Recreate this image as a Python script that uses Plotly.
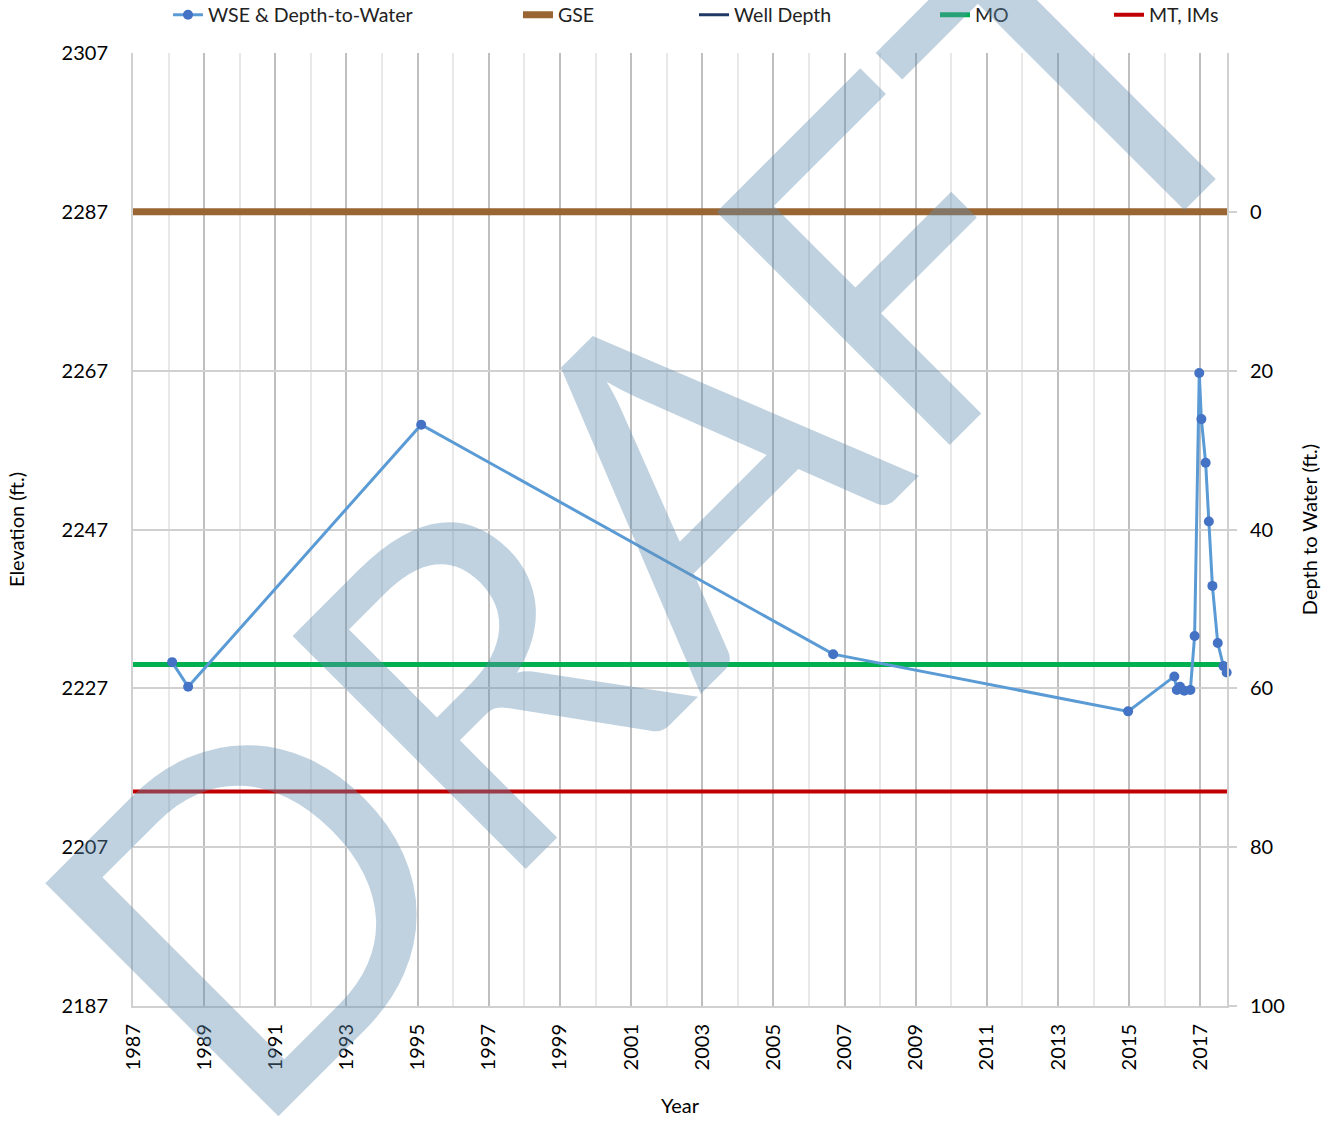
import plotly.graph_objects as go

# --- data ---
years = [1988.10, 1988.55, 1995.10, 2006.68, 2014.97, 2016.27, 2016.34, 2016.43,
         2016.55, 2016.72, 2016.84, 2016.97, 2017.03, 2017.15, 2017.24, 2017.34,
         2017.49, 2017.65, 2017.74]
wse = [2230.3, 2227.2, 2260.2, 2231.3, 2224.1, 2228.5, 2226.8, 2227.2,
       2226.7, 2226.8, 2233.6, 2266.7, 2260.9, 2255.4, 2248.0, 2239.9,
       2232.7, 2229.8, 2229.0]

x_span = [1987, 2017.75]
gse = 2287
mo = 2230
mt = 2214

elev_ticks = [2187, 2207, 2227, 2247, 2267, 2287, 2307]
depth_ticks = [0, 20, 40, 60, 80, 100]
year_ticks = list(range(1987, 2018, 2))

FONT = "Lato"

fig = go.Figure()

fig.add_trace(go.Scatter(x=x_span, y=[gse, gse], mode="lines", name="GSE",
                         line=dict(color="#996633", width=7), legend="legend2"))
fig.add_trace(go.Scatter(x=[None], y=[None], mode="lines", name="Well Depth",
                         line=dict(color="#1F3864", width=3), legend="legend3"))
fig.add_trace(go.Scatter(x=x_span, y=[mo, mo], mode="lines", name="MO",
                         line=dict(color="#00B050", width=5), legend="legend4"))
fig.add_trace(go.Scatter(x=x_span, y=[mt, mt], mode="lines", name="MT, IMs",
                         line=dict(color="#C00000", width=4), legend="legend5"))
fig.add_trace(go.Scatter(x=years, y=wse, mode="lines+markers", name="WSE & Depth-to-Water",
                         line=dict(color="#5B9BD5", width=3),
                         marker=dict(color="#4472C4", size=10), cliponaxis=False,
                         legend="legend"))

# invisible trace to carry the right-hand depth axis
fig.add_trace(go.Scatter(x=[None], y=[None], yaxis="y2", showlegend=False))

def leg(px):
    return dict(x=(px - 133) / 1094, y=(1006 - 15) / 953, xanchor="left", yanchor="middle",
                orientation="h", bgcolor="rgba(0,0,0,0)",
                font=dict(family=FONT, size=19.5, color="#222"))

fig.update_layout(
    width=1334, height=1122,
    margin=dict(l=133, r=107, t=53, b=116, autoexpand=False),
    plot_bgcolor="white", paper_bgcolor="white",
    font=dict(family=FONT, size=20, color="black"),
    legend=leg(168), legend2=leg(518), legend3=leg(694), legend4=leg(935), legend5=leg(1109),
    xaxis=dict(
        range=x_span, tickvals=year_ticks, tickangle=-90,
        showgrid=True, gridcolor="#BFBFBF", gridwidth=1.5,
        minor=dict(dtick=1, tick0=1987, showgrid=True, gridcolor="#E8E8E8", gridwidth=1.5),
        showline=True, linecolor="#D0D0D0", linewidth=2, zeroline=False,
        title=dict(text="Year", font=dict(size=20), standoff=30),
        ticks="", tickfont=dict(size=20), ticklabelstandoff=8, automargin=False,
    ),
    yaxis=dict(
        range=[2187, 2307], tickvals=elev_ticks,
        showgrid=True, gridcolor="#D0D0D0", gridwidth=1.5,
        showline=True, linecolor="#D0D0D0", linewidth=2, zeroline=False,
        title=dict(text="Elevation (ft.)", font=dict(size=20), standoff=32),
        ticks="", tickfont=dict(size=20), ticklabelstandoff=19, automargin=False,
    ),
    yaxis2=dict(
        overlaying="y", side="right", range=[100, -20], tickvals=depth_ticks,
        showgrid=False, showline=True, linecolor="#D0D0D0", linewidth=2, zeroline=False,
        ticks="outside", ticklen=8, tickcolor="#D0D0D0", tickwidth=2,
        title=dict(text="Depth to Water (ft.)", font=dict(size=20), standoff=19),
        tickfont=dict(size=20), ticklabelstandoff=9, automargin=False,
    ),
)

# DRAFT watermark over the chart
fig.add_annotation(
    text="DRAFT", xref="paper", yref="paper",
    x=(646 - 133) / 1094, y=(1006 - 497) / 953,
    showarrow=False, textangle=-45,
    font=dict(family=FONT, size=460, color="rgba(98,142,177,0.4)"),
)

# drop the browser's default 8px body margin so the figure fills the window
fig.write_html("out.html", config={"displayModeBar": False},
               post_script="document.body.style.margin = '0';")
